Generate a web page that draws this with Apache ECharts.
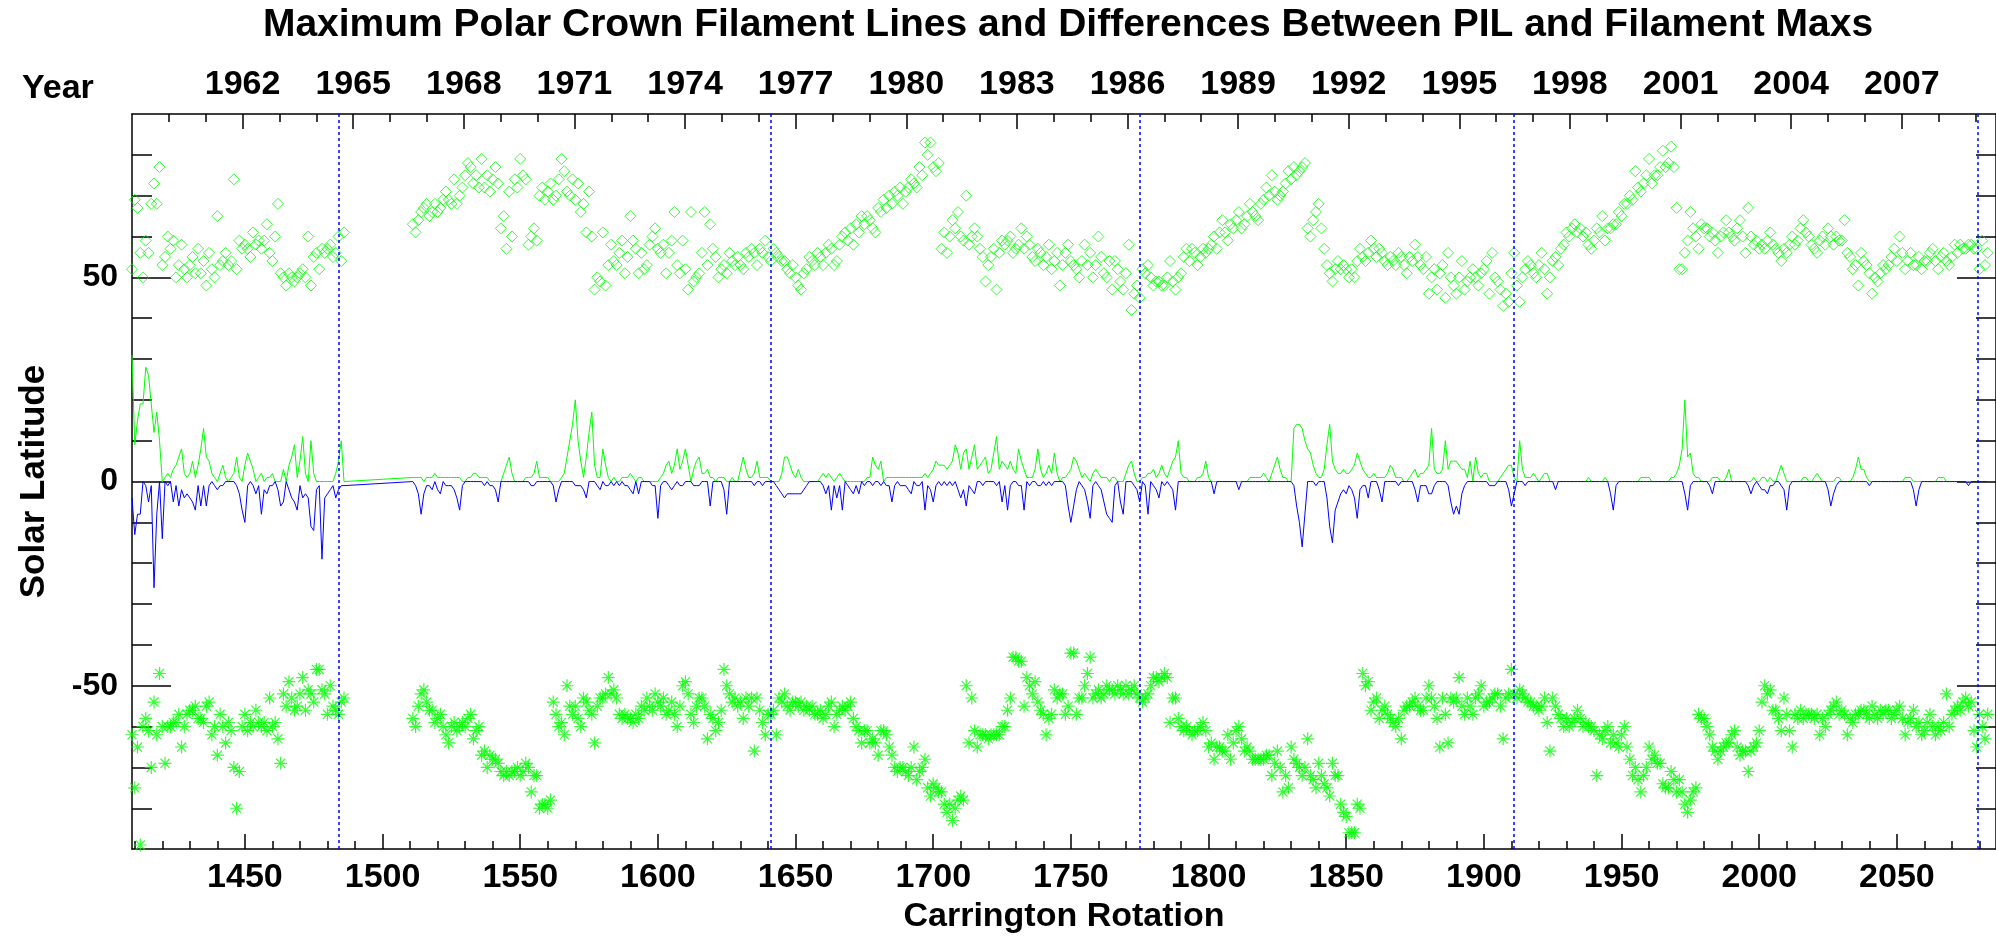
<!DOCTYPE html>
<html>
<head>
<meta charset="utf-8">
<script src="https://cdn.jsdelivr.net/npm/echarts@6/dist/echarts.min.js"></script>
<style>
  html, body { margin: 0; padding: 0; background: #fff; }
  #main { width: 1996px; height: 939px; }
</style>
</head>
<body>
<div id="main"></div>
<script>
// first Carrington rotation of every data array below (one value per rotation, null = no data)
var firstRotation = 1409;

// maximum polar crown filament latitude, north (diamonds)
var northMax = [
  52, 69, 67, 56, 50, 59, 56, 68, 73, 68,
  77, 53, 55, 60, 57, 59, 50, 53, 58, 52,
  50, 53, 55, 51, 57, 51, 54, 48, 56, 52,
  50, 65, 53, 54, 56, 53, 54, 74, 52, 59,
  57, 58, 57, 55, 61, 58, 59, 57, 59, 63,
  56, 54, 60, 68, 51, 50, 48, 51, 50, 49,
  50, 51, 52, 50, 60, 48, 55, 56, 52, 57,
  56, 57, 58, 55, 56, 60, 54, 61, null, null,
  null, null, null, null, null, null, null, null, null, null,
  null, null, null, null, null, null, null, null, null, null,
  null, null, 63, 61, 64, 66, 67, 68, 65, 66,
  68, 66, 67, 69, 71, 69, 68, 74, 68, 70,
  72, 75, 78, 77, 73, 75, 72, 79, 72, 75,
  71, 74, 77, 73, 62, 65, 57, 71, 60, 74,
  72, 79, 75, 74, 58, 60, 62, 59, 70, 72,
  69, 71, 73, 69, 70, 74, 79, 76, 71, 70,
  74, 69, 73, 66, 68, 61, 71, 60, 47, 50,
  49, 61, 48, 53, 58, 54, 53, 56, 59, 51,
  55, 65, 59, 57, 51, 56, 52, 53, 58, 60,
  62, 57, 56, 58, 51, 56, 59, 66, 53, 51,
  59, 52, 47, 66, 49, 50, 51, 56, 66, 53,
  63, 57, 55, 50, 52, 53, 51, 56, 54, 53,
  55, 53, 52, 56, 55, 57, 56, 53, 57, 56,
  59, 55, 54, 57, 56, 55, 54, 54, 52, 51,
  53, 50, 48, 47, 51, 52, 55, 54, 53, 56,
  55, 53, 56, 58, 57, 53, 54, 58, 60, 61,
  59, 62, 58, 63, 61, 65, 63, 65, 64, 62,
  61, 67, 66, 69, 67, 70, 68, 71, 70, 72,
  68, 71, 72, 74, 73, 72, 77, 75, 83, 80,
  83, 77, 76, 78, 57, 61, 56, 60, 64, 62,
  66, 60, 59, 70, 58, 60, 62, 60, 57, 55,
  49, 53, 55, 57, 47, 56, 59, 58, 59, 60,
  56, 57, 58, 62, 57, 60, 58, 55, 54, 57,
  56, 53, 55, 58, 52, 54, 56, 48, 53, 56,
  58, 54, 53, 52, 50, 54, 58, 53, 56, 50,
  53, 60, 55, 51, 50, 54, 47, 54, 52, 49,
  47, 51, 58, 42, 46, 48, 45, 52, 51, 53,
  50, 48, 49, 49, 48, 48, 50, 54, 49, 47,
  50, 51, 55, 57, 54, 57, 56, 53, 55, 57,
  56, 57, 58, 60, 57, 61, 64, 61, 59, 63,
  62, 64, 66, 62, 63, 65, 68, 66, 65, 64,
  68, 69, 72, 70, 75, 71, 69, 70, 71, 73,
  76, 74, 77, 75, 76, 77, 78, 62, 60, 64,
  66, 68, 62, 57, 53, 51, 49, 52, 54, 52,
  53, 52, 50, 52, 50, 54, 57, 55, 54, 56,
  59, 57, 55, 57, 56, 54, 53, 55, 54, 53,
  56, 55, 53, 51, 55, 54, 58, 55, 53, 52,
  55, 46, 50, 52, 47, 51, 53, 45, 56, 50,
  48, 46, 50, 54, 47, 49, 50, 52, 50, 48,
  51, 52, 54, 46, 56, 50, 49, 47, 43, 46,
  44, 51, 56, 48, 44, 50, 52, 54, 53, 51,
  50, 53, 56, 52, 46, 50, 54, 55, 53, 57,
  58, 61, 60, 62, 63, 61, 62, 60, 61, 58,
  57, 59, 62, 61, 65, 59, 62, 62, 63, 63,
  66, 65, 68, 68, 70, 69, 76, 72, 71, 73,
  75, 79, 73, 75, 75, 77, 81, 77, 78, 82,
  77, 67, 52, 52, 56, 59, 66, 62, 60, 57,
  63, 62, 62, 60, 61, 59, 56, 60, 61, 64,
  61, 60, 59, 62, 64, 60, 56, 67, 60, 58,
  59, 57, 58, 57, 59, 61, 58, 57, 56, 54,
  57, 56, 58, 60, 58, 59, 62, 64, 61, 60,
  58, 57, 56, 59, 60, 58, 62, 60, 58, 60,
  59, 59, 64, 56, 55, 52, 53, 48, 56, 54,
  53, 51, 46, 50, 49, 51, 53, 52, 53, 55,
  57, 54, 60, 56, 52, 54, 56, 53, 53, 55,
  52, 54, 54, 56, 57, 54, 52, 55, 56, 54,
  53, 55, 58, 56, 58, 57, 57, 58, 58, 57,
  57, 52, 59, 53, 56
];

// maximum polar crown filament latitude, south (asterisks)
var southMax = [
  -62, -75, -65, -89, -60, -58, -61, -70, -54, -62,
  -47, -60, -69, -60, -60, -59, -59, -57, -65, -60,
  -57, -56, -56, -55, -58, -58, -59, -55, -54, -62,
  -60, -67, -57, -60, -64, -59, -61, -70, -80, -71,
  -60, -57, -61, -59, -60, -56, -59, -60, -59, -61,
  -53, -60, -59, -63, -69, -52, -55, -49, -53, -56,
  -55, -52, -48, -56, -51, -52, -54, -46, -46, -51,
  -52, -57, -50, -55, -56, -57, -54, -53, null, null,
  null, null, null, null, null, null, null, null, null, null,
  null, null, null, null, null, null, null, null, null, null,
  null, null, -58, -60, -55, -52, -51, -54, -56, -56,
  -59, -58, -57, -60, -62, -64, -60, -59, -61, -60,
  -59, -60, -58, -57, -63, -61, -60, -67, -66, -70,
  -67, -68, -68, -69, -71, -72, -71, -72, -71, -71,
  -70, -72, -71, -69, -70, -76, -72, -72, -80, -79,
  -79, -80, -78, -54, -57, -60, -59, -62, -50, -55,
  -57, -55, -58, -60, -53, -54, -56, -57, -64, -55,
  -53, -53, -52, -48, -52, -51, -53, -57, -58, -57,
  -58, -58, -59, -57, -58, -55, -56, -53, -55, -56,
  -52, -54, -55, -53, -57, -56, -54, -57, -60, -55,
  -50, -49, -52, -57, -59, -55, -53, -53, -55, -63,
  -57, -58, -61, -59, -56, -46, -50, -52, -54, -53,
  -55, -54, -58, -53, -55, -53, -66, -53, -56, -59,
  -62, -57, -57, -56, -62, -53, -54, -52, -55, -56,
  -54, -54, -55, -54, -56, -55, -56, -55, -57, -57,
  -56, -58, -57, -55, -54, -60, -57, -56, -55, -56,
  -55, -54, -58, -60, -61, -64, -61, -61, -64, -63,
  -64, -67, -61, -61, -62, -65, -67, -70, -71, -70,
  -70, -71, -72, -70, -65, -73, -71, -70, -68, -75,
  -77, -74, -75, -76, -76, -79, -81, -79, -83, -80,
  -78, -77, -78, -50, -64, -53, -61, -65, -62, -62,
  -62, -63, -62, -62, -62, -62, -60, -60, -56, -53,
  -43, -43, -44, -44, -55, -48, -50, -52, -49, -54,
  -56, -57, -62, -58, -57, -51, -53, -52, -52, -57,
  -55, -42, -42, -57, -53, -53, -50, -47, -43, -53,
  -52, -51, -53, -52, -50, -51, -51, -52, -50, -51,
  -52, -50, -52, -51, -50, -52, -53, -54, -53, -52,
  -50, -48, -48, -49, -48, -47, -48, -59, -53, -53,
  -58, -60, -61, -60, -61, -62, -61, -61, -60, -59,
  -61, -65, -64, -68, -65, -65, -66, -66, -62, -68,
  -64, -61, -60, -63, -66, -65, -66, -68, -68, -68,
  -68, -68, -67, -67, -72, -69, -66, -70, -76, -72,
  -75, -65, -68, -69, -70, -72, -70, -63, -72, -73,
  -75, -69, -72, -74, -75, -77, -69, -72, -72, -79,
  -81, -82, -86, -86, -86, -79, -80, -47, -50, -49,
  -56, -54, -53, -58, -56, -55, -57, -58, -59, -60,
  -58, -63, -56, -55, -55, -54, -53, -55, -56, -56,
  -53, -50, -53, -55, -58, -65, -53, -57, -64, -53,
  -54, -53, -48, -55, -57, -53, -55, -57, -53, -52,
  -50, -55, -54, -54, -53, -52, -52, -55, -63, -53,
  -52, -46, -52, -53, -51, -52, -53, -54, -54, -55,
  -55, -56, -55, -53, -59, -66, -53, -55, -57, -58,
  -60, -58, -60, -59, -58, -56, -58, -60, -59, -60,
  -60, -61, -72, -62, -63, -61, -60, -64, -62, -64,
  -65, -62, -60, -65, -68, -72, -70, -73, -76, -72,
  -70, -65, -68, -67, -69, -69, -74, -75, -75, -71,
  -73, -76, -73, -76, -79, -81, -78, -76, -75, -57,
  -58, -58, -60, -62, -65, -66, -68, -66, -65, -64,
  -64, -62, -61, -65, -67, -66, -66, -71, -66, -65,
  -64, -61, -54, -50, -52, -51, -56, -56, -58, -61,
  -53, -57, -61, -65, -57, -58, -56, -58, -57, -57,
  -57, -58, -57, -62, -58, -60, -57, -56, -55, -54,
  -57, -56, -57, -62, -58, -59, -57, -57, -56, -56,
  -57, -58, -55, -57, -58, -56, -57, -56, -56, -58,
  -57, -56, -55, -58, -62, -59, -58, -56, -60, -59,
  -62, -61, -59, -57, -60, -62, -60, -61, -59, -52,
  -60, -57, -56, -55, -56, -54, -53, -55, -54, -61,
  -65, -57, -60, -63, -57
];

// difference between PIL and filament maximum, north (green line)
var northDiff = [
  31, 9, 15, 19, 19, 28, 26, 19, 12, 17,
  10, 0, 1, 2, 1, 3, 4, 6, 8, 2,
  1, 2, 5, 1, 4, 8, 13, 6, 5, 2,
  1, 0, 2, 4, 1, 0, 1, 2, 6, 1,
  0, 4, 7, 5, 3, 0, 1, 2, 0, 1,
  1, 2, 0, 0, 0, 3, 0, 4, 6, 9,
  1, 5, 11, 2, 0, 10, 2, 0, 0, 0,
  0, 0, 0, 0, 2, 5, 10, 0, null, null,
  null, null, null, null, null, null, null, null, null, null,
  null, null, null, null, null, null, null, null, null, null,
  null, null, 1, 1, 1, 1, 0, 1, 1, 1,
  2, 1, 1, 1, 1, 1, 1, 1, 1, 1,
  0, 0, 1, 1, 2, 2, 1, 1, 1, 1,
  0, 0, 0, 0, 0, 2, 4, 6, 2, 0,
  0, 0, 0, 1, 1, 1, 2, 5, 1, 1,
  1, 1, 0, 0, 0, 0, 1, 2, 6, 10,
  14, 20, 10, 5, 1, 6, 12, 17, 4, 1,
  1, 8, 4, 1, 0, 1, 0, 0, 1, 1,
  1, 2, 1, 0, 1, 1, 0, 0, 0, 0,
  0, 0, 1, 2, 4, 5, 2, 4, 8, 3,
  5, 8, 4, 0, 3, 5, 6, 2, 2, 3,
  1, 1, 0, 1, 1, 1, 0, 0, 1, 0,
  0, 3, 6, 3, 1, 1, 2, 5, 1, 1,
  1, 1, 0, 0, 0, 0, 2, 6, 6, 4,
  2, 1, 3, 1, 0, 0, 0, 0, 0, 0,
  1, 2, 1, 2, 1, 0, 1, 2, 1, 0,
  0, 0, 0, 0, 0, 0, 0, 1, 1, 6,
  4, 3, 5, 0, 1, 1, 1, 1, 1, 1,
  1, 1, 1, 1, 1, 1, 1, 1, 2, 1,
  2, 3, 5, 4, 4, 4, 3, 4, 5, 9,
  7, 3, 7, 8, 3, 6, 9, 3, 4, 5,
  6, 2, 3, 7, 11, 3, 5, 4, 3, 5,
  3, 2, 8, 5, 3, 1, 1, 1, 3, 8,
  3, 1, 2, 4, 2, 7, 2, 0, 1, 1,
  2, 3, 6, 5, 3, 1, 2, 1, 0, 2,
  3, 2, 1, 1, 1, 0, 1, 1, 0, 0,
  0, 2, 4, 5, 2, 0, 0, 1, 1, 2,
  2, 3, 1, 2, 4, 2, 1, 3, 5, 6,
  10, 2, 1, 1, 0, 0, 0, 1, 1, 2,
  5, 1, 0, 0, 0, 0, 0, 0, 0, 0,
  0, 0, 0, 0, 0, 0, 1, 1, 1, 1,
  1, 2, 1, 0, 2, 4, 6, 3, 1, 1,
  0, 0, 13, 14, 14, 13, 10, 8, 7, 4,
  2, 1, 1, 3, 9, 14, 5, 3, 2, 2,
  3, 2, 2, 3, 4, 7, 5, 3, 2, 1,
  1, 2, 1, 1, 1, 1, 2, 4, 3, 1,
  1, 1, 0, 0, 1, 2, 3, 1, 2, 2,
  3, 4, 13, 3, 2, 2, 3, 10, 3, 5,
  5, 5, 4, 3, 3, 1, 5, 0, 6, 2,
  1, 2, 2, 0, 0, 0, 0, 1, 2, 3,
  4, 4, 1, 0, 10, 3, 1, 1, 1, 2,
  1, 0, 1, 2, 2, 0, 0, 0, 0, 0,
  0, 0, 0, 0, 0, 0, 0, 0, 0, 1,
  0, 0, 0, 0, 0, 1, 0, 0, 0, 0,
  0, 0, 0, 0, 0, 0, 0, 0, 1, 1,
  1, 1, 0, 0, 0, 0, 0, 0, 0, 1,
  1, 2, 4, 8, 20, 6, 7, 2, 1, 1,
  0, 0, 0, 0, 1, 1, 1, 0, 0, 1,
  3, 0, 0, 0, 0, 0, 0, 0, 0, 1,
  0, 0, 1, 1, 0, 1, 0, 0, 2, 4,
  2, 0, 0, 0, 0, 0, 0, 1, 1, 0,
  0, 1, 2, 1, 0, 0, 0, 0, 0, 1,
  1, 0, 0, 0, 0, 1, 3, 6, 3, 3,
  1, 0, 0, 0, 0, 0, 0, 0, 0, 0,
  0, 0, 0, 0, 1, 1, 1, 0, 0, 0,
  0, 0, 0, 0, 0, 0, 1, 1, 1, 0,
  0, 0, 0, 0, 0, 0, 0, 0, 0, 0,
  0, 0, 0, 0, 0
];

// difference between PIL and filament maximum, south (blue line)
var southDiff = [
  -4, -13, -8, -8, 0, -1, -5, -1, -26, -8,
  0, -14, 0, -1, 0, -5, -1, -6, -2, -4,
  -3, -4, -5, -7, -1, -6, -1, -6, -1, 0,
  -1, -2, -1, -1, 0, 0, 0, 0, -1, -3,
  -7, -10, -1, 0, -1, -3, -1, -8, -2, -3,
  -1, -1, 0, -2, -6, -5, 0, -2, -4, -5,
  -7, -1, -4, -3, -4, -11, -12, -2, -1, -19,
  -4, -3, -2, -1, -4, -2, -1, -1, null, null,
  null, null, null, null, null, null, null, null, null, null,
  null, null, null, null, null, null, null, null, null, null,
  null, null, 0, -1, -3, -8, -3, -1, -1, -2,
  0, -2, -3, 0, -1, -1, -1, -2, -4, -7,
  -1, 0, 0, 0, 0, 0, 0, 0, -1, 0,
  -1, -1, -2, -5, 0, 0, 0, 0, 0, 0,
  0, 0, 0, 0, 0, -1, -1, 0, 0, 0,
  0, 0, 0, -1, -5, -2, 0, 0, 0, 0,
  0, -1, -1, -1, -2, -4, 0, 0, 0, -1,
  -2, 0, -1, -1, 0, -1, 0, -1, 0, -1,
  -1, -2, -3, 0, -3, 0, 0, 0, 0, -1,
  -1, -9, -1, 0, 0, -1, -2, -1, 0, -1,
  -1, 0, 0, 0, -1, -1, -1, 0, 0, 0,
  -6, 0, 0, 0, 0, -2, -8, 0, 0, 0,
  0, 0, 0, 0, 0, 0, -1, 0, 0, -1,
  0, 0, 0, 0, -1, -2, -3, -4, -3, -3,
  -3, -3, -3, -3, -2, -1, 0, 0, 0, 0,
  0, -1, -3, -1, -7, -1, -4, -1, -7, 0,
  -1, -2, -3, -1, -3, 0, -1, 0, 0, -1,
  0, 0, -1, 0, -1, -1, -5, -1, 0, -1,
  -1, -1, -2, -3, 0, -1, -1, 0, -7, -1,
  -2, -5, -1, 0, -1, 0, -1, 0, -1, 0,
  -2, -4, -2, -6, -1, -2, -3, 0, 0, -1,
  0, 0, 0, 0, -1, 0, -5, -1, -7, -1,
  0, 0, -1, -1, -7, 0, -1, 0, 0, -1,
  -1, 0, -1, 0, -1, 0, 0, 0, 0, -1,
  -6, -10, -6, -2, 0, -1, -2, -5, -9, -1,
  0, -1, -2, -5, -8, -9, -10, -1, 0, -5,
  -8, 0, 0, 0, -1, -2, -5, 0, -1, -8,
  0, -1, -2, -4, 0, -1, 0, -1, -2, -7,
  0, 0, 0, 0, 0, 0, 0, 0, 0, 0,
  0, 0, 0, -3, 0, 0, 0, 0, 0, 0,
  0, 0, -2, 0, 0, 0, 0, 0, 0, 0,
  0, 0, 0, 0, 0, 0, 0, 0, 0, 0,
  0, 0, -1, -6, -10, -16, -8, 0, 0, 0,
  -1, 0, 0, 0, -4, -11, -15, -7, -5, -3,
  -2, -3, -1, -2, -4, -9, -2, -1, -1, -4,
  0, 0, 0, -2, -5, 0, 0, 0, 0, 0,
  -1, 0, 0, 0, 0, 0, -2, -5, -1, -1,
  -1, -3, -3, -1, 0, 0, 0, 0, -1, -5,
  -8, -6, -8, -3, -1, 0, 0, 0, 0, 0,
  0, 0, 0, -1, -1, -1, 0, 0, 0, 0,
  -2, -6, -3, 0, 0, 0, -1, 0, 0, 0,
  0, 0, 0, 0, 0, 0, 0, -2, 0, 0,
  0, 0, 0, 0, 0, 0, 0, 0, 0, 0,
  0, 0, 0, 0, 0, 0, 0, -3, -7, -1,
  0, 0, 0, 0, 0, 0, 0, 0, 0, 0,
  0, 0, 0, 0, 0, 0, 0, 0, 0, 0,
  0, 0, 0, 0, -3, -7, -1, 0, 0, 0,
  0, 0, 0, -1, -3, 0, 0, 0, 0, 0,
  0, 0, 0, 0, 0, 0, 0, -1, -3, -1,
  0, -1, -2, -2, -3, -1, -1, 0, 0, -1,
  -2, -7, -1, 0, 0, 0, 0, 0, 0, 0,
  0, 0, 0, 0, 0, 0, -2, -6, -3, -1,
  0, 0, 0, 0, 0, 0, 0, 0, 0, 0,
  0, -1, 0, 0, 0, 0, 0, 0, 0, 0,
  0, 0, 0, 0, 0, 0, 0, -2, -6, -2,
  0, 0, 0, 0, 0, 0, 0, 0, 0, 0,
  0, 0, 0, 0, 0, 0, 0, -1, 0, 0,
  0, 0, 0, 0, 0
];

// rotations of the dotted cycle markers
var cycleMarks = [1484, 1641, 1775, 1911, 2079.5];

// tick labels
var rotationLabels = [1450, 1500, 1550, 1600, 1650, 1700, 1750, 1800, 1850, 1900, 1950, 2000, 2050];
var yearLabels = [1962, 1965, 1968, 1971, 1974, 1977, 1980, 1983, 1986, 1989, 1992, 1995, 1998, 2001, 2004, 2007];
var latitudeLabels = [-50, 0, 50];

var rotMin = 1409, rotMax = 2086;

// Carrington rotation -> decimal year (for the top axis)
function rotationToYear(cr) {
    return 1853.857 + (cr - 1) * 27.2753 / 365.25;
}

var minorRotations = [];
for (var r = 1410; r <= 2080; r += 10) minorRotations.push(r);
var minorYears = [];
for (var y = 1959; y <= 2009; y++) minorYears.push(y);
var minorLatitudes = [];
for (var l = -80; l <= 80; l += 10) minorLatitudes.push(l);

function pairs(values, keepNull) {
    var out = [];
    for (var i = 0; i < values.length; i++) {
        if (values[i] === null && !keepNull) continue;
        out.push([firstRotation + i, values[i]]);
    }
    return out;
}

function plain(v) { return String(v); }

var FONT = "'Liberation Sans', Arial, Helvetica, sans-serif";
var black = '#000';
var green = '#00ff00';
var blue = '#0000ff';
var asterisk = 'path://M6 0L6 12M0 6L12 6M1.8 1.8L10.2 10.2M1.8 10.2L10.2 1.8';
var tickLine = { color: black, width: 1.5 };

var myChart = echarts.init(document.getElementById('main'));

var option = {
    animation: false,
    backgroundColor: '#fff',
    title: {
        text: 'Maximum Polar Crown Filament Lines and Differences Between PIL and Filament Maxs',
        left: 1068,
        top: 6,
        textAlign: 'center',
        padding: 0,
        textStyle: { fontFamily: FONT, fontSize: 39, fontWeight: 'bold', color: black }
    },
    graphic: [{
        type: 'text',
        x: 22,
        y: 89,
        style: { text: 'Year', font: 'bold 34px ' + FONT, fill: black, verticalAlign: 'middle' }
    }],
    grid: { left: 132, right: -9, top: 114, bottom: 89, containLabel: false },
    xAxis: [
        {
            type: 'value', position: 'bottom', min: rotMin, max: rotMax,
            name: 'Carrington Rotation', nameLocation: 'middle', nameGap: 40,
            nameTextStyle: { fontFamily: FONT, fontSize: 34, fontWeight: 'bold', color: black },
            axisLine: { onZero: false, lineStyle: tickLine },
            axisTick: { inside: true, length: 15, customValues: rotationLabels, lineStyle: tickLine },
            axisLabel: { customValues: rotationLabels, formatter: plain, margin: 12, fontFamily: FONT, fontSize: 34, fontWeight: 'bold', color: black },
            splitLine: { show: false }
        },
        {
            type: 'value', position: 'bottom', min: rotMin, max: rotMax,
            axisLine: { show: false, onZero: false },
            axisTick: { inside: true, length: 8, customValues: minorRotations, lineStyle: tickLine },
            axisLabel: { show: false },
            splitLine: { show: false }
        },
        {
            type: 'value', position: 'top', min: rotationToYear(rotMin), max: rotationToYear(rotMax),
            axisLine: { onZero: false, lineStyle: tickLine },
            axisTick: { inside: true, length: 15, customValues: yearLabels, lineStyle: tickLine },
            axisLabel: { customValues: yearLabels, formatter: plain, margin: 12, fontFamily: FONT, fontSize: 34, fontWeight: 'bold', color: black },
            splitLine: { show: false }
        },
        {
            type: 'value', position: 'top', min: rotationToYear(rotMin), max: rotationToYear(rotMax),
            axisLine: { show: false, onZero: false },
            axisTick: { inside: true, length: 8, customValues: minorYears, lineStyle: tickLine },
            axisLabel: { show: false },
            splitLine: { show: false }
        }
    ],
    yAxis: [
        {
            type: 'value', position: 'left', min: -90, max: 90,
            name: 'Solar Latitude', nameLocation: 'middle', nameGap: 80, nameRotate: 90,
            nameTextStyle: { fontFamily: FONT, fontSize: 35, fontWeight: 'bold', color: black },
            axisLine: { show: true, onZero: false, lineStyle: tickLine },
            axisTick: { show: true, inside: true, length: 39, customValues: latitudeLabels, lineStyle: tickLine },
            axisLabel: { customValues: latitudeLabels, formatter: plain, margin: 14, fontFamily: FONT, fontSize: 32, fontWeight: 'bold', color: black },
            splitLine: { show: false }
        },
        {
            type: 'value', position: 'left', min: -90, max: 90,
            axisLine: { show: false, onZero: false },
            axisTick: { show: true, inside: true, length: 20, customValues: minorLatitudes, lineStyle: tickLine },
            axisLabel: { show: false },
            splitLine: { show: false }
        },
        {
            type: 'value', position: 'right', min: -90, max: 90,
            axisLine: { show: true, onZero: false, lineStyle: tickLine },
            axisTick: { show: true, inside: true, length: 39, customValues: latitudeLabels, lineStyle: tickLine },
            axisLabel: { show: false },
            splitLine: { show: false }
        },
        {
            type: 'value', position: 'right', min: -90, max: 90,
            axisLine: { show: false, onZero: false },
            axisTick: { show: true, inside: true, length: 20, customValues: minorLatitudes, lineStyle: tickLine },
            axisLabel: { show: false },
            splitLine: { show: false }
        }
    ],
    series: [
        {
            name: 'North max', type: 'scatter', xAxisIndex: 0, yAxisIndex: 0,
            symbol: 'diamond', symbolSize: 11,
            itemStyle: { color: 'rgba(0,0,0,0)', borderColor: green, borderWidth: 1 },
            data: pairs(northMax, false), silent: true, z: 3
        },
        {
            name: 'South max', type: 'scatter', xAxisIndex: 0, yAxisIndex: 0,
            symbol: asterisk, symbolSize: 13,
            itemStyle: { color: 'rgba(0,0,0,0)', borderColor: green, borderWidth: 1.2 },
            data: pairs(southMax, false), silent: true, z: 3
        },
        {
            name: 'North diff', type: 'line', xAxisIndex: 0, yAxisIndex: 0,
            showSymbol: false, connectNulls: true,
            lineStyle: { color: green, width: 1 },
            data: pairs(northDiff, true), silent: true, z: 2
        },
        {
            name: 'South diff', type: 'line', xAxisIndex: 0, yAxisIndex: 0,
            showSymbol: false, connectNulls: true,
            lineStyle: { color: blue, width: 1 },
            data: pairs(southDiff, true), silent: true, z: 4,
            markLine: {
                silent: true, symbol: ['none', 'none'], label: { show: false },
                lineStyle: { color: blue, type: [3, 3], width: 1.5 },
                data: cycleMarks.map(function (v) { return { xAxis: v }; })
            }
        }
    ]
};

myChart.setOption(option);
</script>
</body>
</html>
